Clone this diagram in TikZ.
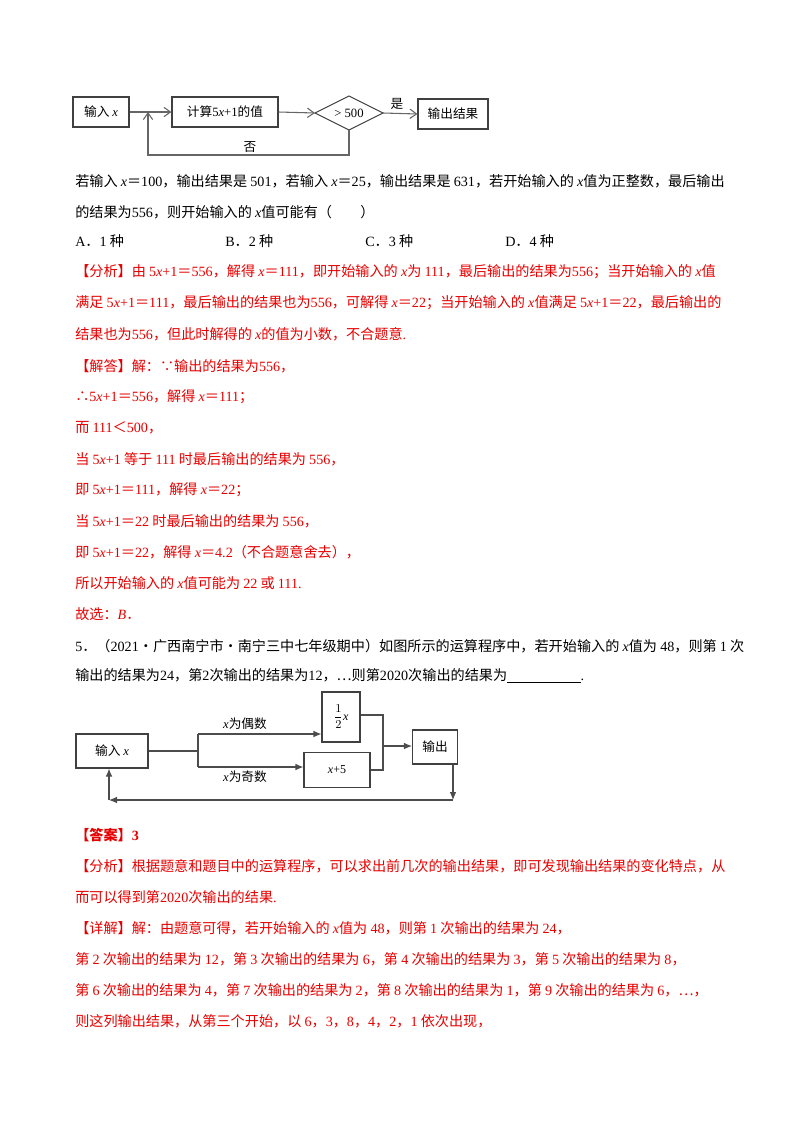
\documentclass[tikz,border=0pt]{standalone}
\usepackage{fontspec}
\setmainfont{Noto Sans CJK SC}
\newfontfamily\lat{Liberation Serif}
\newcommand\vx{{\lat\itshape x}}
\newcommand\nn[1]{{\lat #1}}
\newcommand\labf{\fontsize{9.5pt}{11pt}\selectfont}
\usetikzlibrary{arrows.meta}
\definecolor{redt}{RGB}{230,0,0}
\begin{document}
\begin{tikzpicture}[x=0.75pt,y=-0.75pt,
  txt/.style={anchor=west,inner sep=0pt,font=\fontsize{10.6pt}{12pt}\selectfont},
  rtxt/.style={txt,text=redt},
  box/.style={draw=black!75,thick,inner sep=0pt},
  lab/.style={inner sep=0pt,font=\labf},
  oa/.style={-{Straight Barb[length=5pt,width=7pt]},black!60,thick},
  fa/.style={-{Latex[length=6pt,width=5pt]},black!70,thick}]
\useasboundingbox (0,0) rectangle (800,1132);
% diagram 1
\node[box,minimum width=56*0.75pt,minimum height=30*0.75pt] (in1) at (101,112) {\labf 输入 \vx};
\node[box,minimum width=106*0.75pt,minimum height=30*0.75pt] (calc) at (225,112) {\labf 计算\nn{5}\vx\nn{+1}的值};
\draw[black!75,thick] (315,113) -- (349,96) -- (383,113) -- (349,130) -- cycle;
\node[inner sep=0pt,font=\lat\fontsize{9.5pt}{11pt}\selectfont] (dia) at (349,113) {\textgreater\ 500};
\node[box,minimum width=70*0.75pt,minimum height=30*0.75pt] (out1) at (453,114) {\labf 输出结果};
\coordinate (j1) at (148,112);
\coordinate (dl) at (315,113);
\coordinate (dr) at (383,113);
\coordinate (db) at (349,130);
\coordinate (c1) at (349,155);
\coordinate (c2) at (148,155);
\draw[oa] (in1.east) -- (calc.west);
\draw[oa] (calc.east) -- (dl);
\draw[oa] (dr) -- (out1.west);
\draw[oa] (db) -- (c1) -- (c2) -- (j1);
\node[lab] (yes) at (397,104) {是};
\node[lab] (no) at (250,147) {否};
% text
\node[txt] (t1) at (75,181) {若输入 \vx＝\nn{100}，输出结果是 \nn{501}，若输入 \vx＝\nn{25}，输出结果是 \nn{631}，若开始输入的 \vx 值为正整数，最后输出};
\node[txt] (t2) at (75,212) {的结果为\nn{556}，则开始输入的 \vx 值可能有（\hspace{2em}）};
\node[txt] (a) at (75,241) {\nn{A}．\nn{1} 种};
\node[txt] (b) at (225,241) {\nn{B}．\nn{2} 种};
\node[txt] (c) at (365,241) {\nn{C}．\nn{3} 种};
\node[txt] (d) at (505,241) {\nn{D}．\nn{4} 种};
\node[rtxt] (r1) at (75,272) {【分析】由 \nn{5}\vx\nn{+1}＝\nn{556}，解得 \vx＝\nn{111}，即开始输入的 \vx 为 \nn{111}，最后输出的结果为\nn{556}；当开始输入的 \vx 值};
\node[rtxt] (r2) at (75,303) {满足 \nn{5}\vx\nn{+1}＝\nn{111}，最后输出的结果也为\nn{556}，可解得 \vx＝\nn{22}；当开始输入的 \vx 值满足 \nn{5}\vx\nn{+1}＝\nn{22}，最后输出的};
\node[rtxt] (r3) at (75,334) {结果也为\nn{556}，但此时解得的 \vx 的值为小数，不合题意\nn{.}};
\node[rtxt] (r4) at (75,366) {【解答】解：∵输出的结果为\nn{556}，};
\node[rtxt] (r5) at (75,397) {∴\nn{5}\vx\nn{+1}＝\nn{556}，解得 \vx＝\nn{111}；};
\node[rtxt] (r6) at (75,428) {而 \nn{111}＜\nn{500}，};
\node[rtxt] (r7) at (75,459) {当 \nn{5}\vx\nn{+1} 等于 \nn{111} 时最后输出的结果为 \nn{556}，};
\node[rtxt] (r8) at (75,490) {即 \nn{5}\vx\nn{+1}＝\nn{111}，解得 \vx＝\nn{22}；};
\node[rtxt] (r9) at (75,521) {当 \nn{5}\vx\nn{+1}＝\nn{22} 时最后输出的结果为 \nn{556}，};
\node[rtxt] (r10) at (75,552) {即 \nn{5}\vx\nn{+1}＝\nn{22}，解得 \vx＝\nn{4.2}（不合题意舍去），};
\node[rtxt] (r11) at (75,583) {所以开始输入的 \vx 值可能为 \nn{22} 或 \nn{111.}};
\node[rtxt] (r12) at (75,614) {故选：{\lat\itshape B}．};
\node[txt] (q1) at (75,646) {\nn{5}．（\nn{2021}·广西南宁市·南宁三中七年级期中）如图所示的运算程序中，若开始输入的 \vx 值为 \nn{48}，则第 \nn{1} 次};
\node[txt] (q2) at (75,676) {输出的结果为\nn{24}，第\nn{2}次输出的结果为\nn{12}，…则第\nn{2020}次输出的结果为\underline{\hspace{5.2em}}\nn{.}};
% diagram 2
\node[box,minimum width=72*0.75pt,minimum height=34*0.75pt] (in2) at (112,751) {\labf 输入 \vx};
\node[box,minimum width=38*0.75pt,minimum height=50*0.75pt] (half) at (341,717) {\lat\fontsize{9pt}{10pt}\selectfont $\displaystyle\frac{1}{2}$\textit{x}};
\node[box,minimum width=66*0.75pt,minimum height=35*0.75pt] (plus) at (337,770) {\lat\fontsize{9pt}{10pt}\selectfont\textit{x}+5};
\node[box,minimum width=45*0.75pt,minimum height=34*0.75pt] (out2) at (435,747) {\labf 输出};
\coordinate (s) at (198,751);
\coordinate (su) at (198,734);
\coordinate (sd) at (198,767);
\draw[black!70,thick] (in2.east) -- (s);
\draw[black!70,thick] (su) -- (sd);
\draw[fa] (su) -- (half.west |- su);
\draw[fa] (sd) -- (plus.west |- sd);
\coordinate (m1) at (383,715);
\coordinate (m2) at (383,770);
\coordinate (m) at (383,746);
\draw[black!70,thick] (half.east |- m1) -- (m1) -- (m2) -- (plus.east |- m2);
\draw[fa] (m) -- (out2.west |- m);
\coordinate (o1) at (453,800);
\coordinate (o2) at (109,800);
\draw[fa] (out2.south -| o1) -- (o1);
\draw[fa] (o1) -- (o2);
\draw[fa] (o2) -- (in2.south -| o2);
\node[lab] (even) at (245,724) {\vx 为偶数};
\node[lab] (odd) at (245,777) {\vx 为奇数};
% answer
\node[rtxt,font=\bfseries\fontsize{10.6pt}{12pt}\selectfont] (ans) at (75,835) {【答案】\nn{\bfseries 3}};
\node[rtxt] (s1) at (75,866) {【分析】根据题意和题目中的运算程序，可以求出前几次的输出结果，即可发现输出结果的变化特点，从};
\node[rtxt] (s2) at (75,897) {而可以得到第\nn{2020}次输出的结果\nn{.}};
\node[rtxt] (s3) at (75,928) {【详解】解：由题意可得，若开始输入的 \vx 值为 \nn{48}，则第 \nn{1} 次输出的结果为 \nn{24}，};
\node[rtxt] (s4) at (75,959) {第 \nn{2} 次输出的结果为 \nn{12}，第 \nn{3} 次输出的结果为 \nn{6}，第 \nn{4} 次输出的结果为 \nn{3}，第 \nn{5} 次输出的结果为 \nn{8}，};
\node[rtxt] (s5) at (75,990) {第 \nn{6} 次输出的结果为 \nn{4}，第 \nn{7} 次输出的结果为 \nn{2}，第 \nn{8} 次输出的结果为 \nn{1}，第 \nn{9} 次输出的结果为 \nn{6}，…，};
\node[rtxt] (s6) at (75,1021) {则这列输出结果，从第三个开始，以 \nn{6}，\nn{3}，\nn{8}，\nn{4}，\nn{2}，\nn{1} 依次出现，};
\end{tikzpicture}
\end{document}
